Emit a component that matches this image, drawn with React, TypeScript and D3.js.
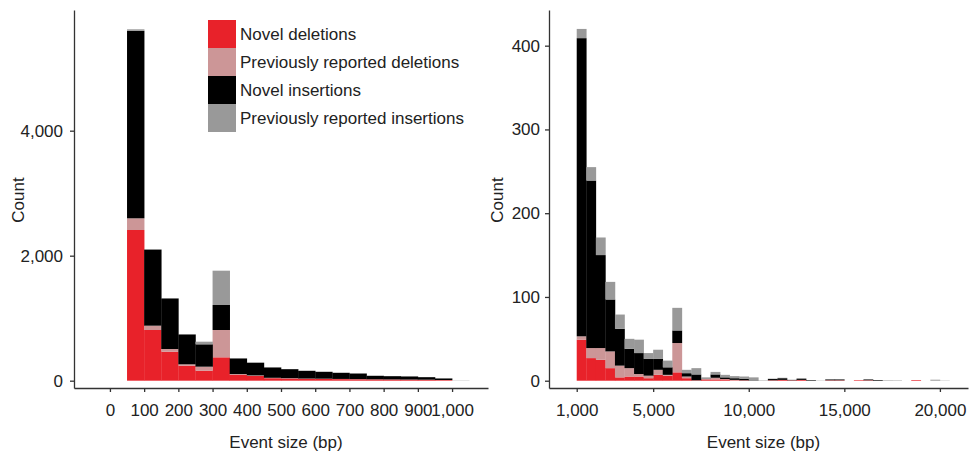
import React, { useEffect, useRef } from 'react'
import * as d3 from 'd3'

// series order, bottom to top of each stacked bar
const seriesNames = ['Novel deletions', 'Previously reported deletions', 'Novel insertions', 'Previously reported insertions']
const seriesColors = ['#e8222a', '#cc9697', '#000000', '#999999']

// left panel: 50 bp bins, start of each bin
const smallBins = [50, 100, 150, 200, 250, 300, 350, 400, 450, 500, 550, 600, 650, 700, 750, 800, 850, 900, 950, 1000]
const smallNovelDel = [2411, 811, 464, 240, 160, 374, 91, 75, 40, 35, 30, 28, 25, 22, 20, 18, 16, 14, 10, 0]
const smallPrevDel = [187, 69, 43, 22, 64, 437, 16, 10, 6, 5, 4, 4, 3, 3, 2, 2, 2, 2, 1, 0]
const smallNovelIns = [3000, 1218, 809, 478, 358, 400, 249, 203, 166, 145, 124, 110, 98, 90, 56, 53, 50, 41, 25, 0]
const smallPrevIns = [24, 2, 2, 2, 42, 549, 2, 2, 2, 2, 2, 2, 2, 2, 2, 2, 2, 2, 2, 4]

// right panel: 500 bp bins, start of each bin
const largeBins = [1000, 1500, 2000, 2500, 3000, 3500, 4000, 4500, 5000, 5500, 6000, 6500, 7000, 7500, 8000, 8500, 9000, 9500,
  10000, 10500, 11000, 11500, 12000, 12500, 13000, 13500, 14000, 14500, 15000, 15500, 16000, 16500, 17000, 17500, 18000, 18500, 19000, 19500, 20000]
const largeNovelDel = [49, 27, 25, 15, 4, 5, 5, 3, 7, 6, 10, 3, 0.5, 1.5, 1.5, 1.5, 0.5, 0.5,
  0, 0, 0.5, 1, 0.5, 1, 0, 0, 0.5, 0.5, 0, 0.7, 0.5, 0, 0, 0, 0, 0.8, 0, 0, 0]
const largePrevDel = [4, 12, 14, 20, 14, 10, 3, 3, 6, 1, 35, 2, 0, 0.5, 2, 0.5, 0.5, 0,
  0, 0, 0, 0, 0, 0, 0, 0, 0, 0, 0, 0, 0, 0, 0, 0, 0, 0, 0, 0, 0]
const largeNovelIns = [356, 200, 111, 62, 44, 23, 25, 20, 13, 9, 15, 4, 7, 0.5, 4, 2, 2, 2,
  0.5, 0, 1.5, 2, 0.5, 1.5, 0.7, 0, 1, 1, 0, 0, 1, 0.8, 0, 0, 0, 0, 0, 0, 0]
const largePrevIns = [11, 16, 21, 21, 17, 12, 16, 7, 11, 8, 27, 4, 7.5, 1.5, 3, 3, 2.5, 2.5,
  3.5, 0.5, 0.5, 0.5, 0, 0, 0, 0.3, 0, 0, 0, 0, 0, 0, 0.6, 0.5, 0, 0, 0, 1.2, 0.3]

const smallXTicks = [0, 100, 200, 300, 400, 500, 600, 700, 800, 900, 1000]
const smallYTicks = [0, 2000, 4000]
const largeXTicks = [1000, 5000, 10000, 15000, 20000]
const largeYTicks = [0, 100, 200, 300, 400]

const FONT = '"Liberation Sans", Arial, Helvetica, sans-serif'

function drawPanel(svg, opts) {
  const { bins, cols, binWidth, xDomain, xRange, yDomain, xTicks, yTicks, yPad, countX } = opts
  const top = 10, bottom = 388
  const x = d3.scaleLinear().domain(xDomain).range(xRange)
  const y = d3.scaleLinear().domain(yDomain).range([bottom, top])

  const rows = bins.map((b, i) => ({ bin: b, s0: cols[0][i], s1: cols[1][i], s2: cols[2][i], s3: cols[3][i] }))
  const stacked = d3.stack().keys(['s0', 's1', 's2', 's3'])(rows)

  const g = svg.append('g')
  g.selectAll('g.layer')
    .data(stacked)
    .enter().append('g')
    .attr('class', 'layer')
    .attr('fill', (d, i) => seriesColors[i])
    .selectAll('rect')
    .data(d => d)
    .enter().append('rect')
    .attr('x', d => x(d.data.bin))
    .attr('width', d => x(d.data.bin + binWidth) - x(d.data.bin) + 0.3)
    .attr('y', d => y(d[1]))
    .attr('height', d => Math.max(0, y(d[0]) - y(d[1])))

  const xAxis = d3.axisBottom(x).tickValues(xTicks).tickSize(4).tickSizeOuter(0).tickPadding(12).tickFormat(d3.format(','))
  const yAxis = d3.axisLeft(y).tickValues(yTicks).tickSize(4).tickSizeOuter(0).tickPadding(yPad).tickFormat(d3.format(','))

  const ax = g.append('g').attr('transform', `translate(0,${bottom})`).call(xAxis)
  const ay = g.append('g').attr('transform', `translate(${xRange[0]},0)`).call(yAxis)
  ;[ax, ay].forEach(a => {
    a.selectAll('path,line').attr('stroke', '#333').attr('stroke-width', 1.3)
    a.selectAll('text').attr('fill', '#222').style('font-family', FONT).style('font-size', '17px')
  })

  g.append('text')
    .attr('transform', `translate(${countX},200) rotate(-90)`)
    .attr('text-anchor', 'middle')
    .attr('dy', '0.35em')
    .style('font-family', FONT).style('font-size', '17px').attr('fill', '#222')
    .text('Count')

  g.append('text')
    .attr('x', (xRange[0] + xRange[1]) / 2 + 5)
    .attr('y', 448)
    .attr('text-anchor', 'middle')
    .style('font-family', FONT).style('font-size', '17px').attr('fill', '#222')
    .text('Event size (bp)')
}

export default function App() {
  const ref = useRef(null)

  useEffect(() => {
    const svg = d3.select(ref.current)
    svg.selectAll('*').remove()

    drawPanel(svg, {
      bins: smallBins,
      cols: [smallNovelDel, smallPrevDel, smallNovelIns, smallPrevIns],
      binWidth: 50,
      xDomain: [-105, 1105], xRange: [74, 488],
      yDomain: [-117, 5931],
      xTicks: smallXTicks, yTicks: smallYTicks,
      yPad: 7, countX: 18,
    })
    drawPanel(svg, {
      bins: largeBins,
      cols: [largeNovelDel, largePrevDel, largeNovelIns, largePrevIns],
      binWidth: 500,
      xDomain: [-450, 21470], xRange: [549, 968],
      yDomain: [-8.7, 442.6],
      xTicks: largeXTicks, yTicks: largeYTicks,
      yPad: 5, countX: 497,
    })

    // legend
    const leg = svg.append('g').attr('transform', 'translate(208,20)')
    const item = leg.selectAll('g').data(seriesNames).enter().append('g')
      .attr('transform', (d, i) => `translate(0,${i * 28})`)
    item.append('rect').attr('width', 28).attr('height', 28).attr('fill', (d, i) => seriesColors[i])
    item.append('text')
      .attr('x', 32).attr('y', 14).attr('dy', '0.35em')
      .style('font-family', FONT).style('font-size', '17px').attr('fill', '#222')
      .text(d => d)
  }, [])

  return <svg ref={ref} width={971} height={457} style={{ position: 'absolute', left: 0, top: 0, background: '#fff' }} />
}
